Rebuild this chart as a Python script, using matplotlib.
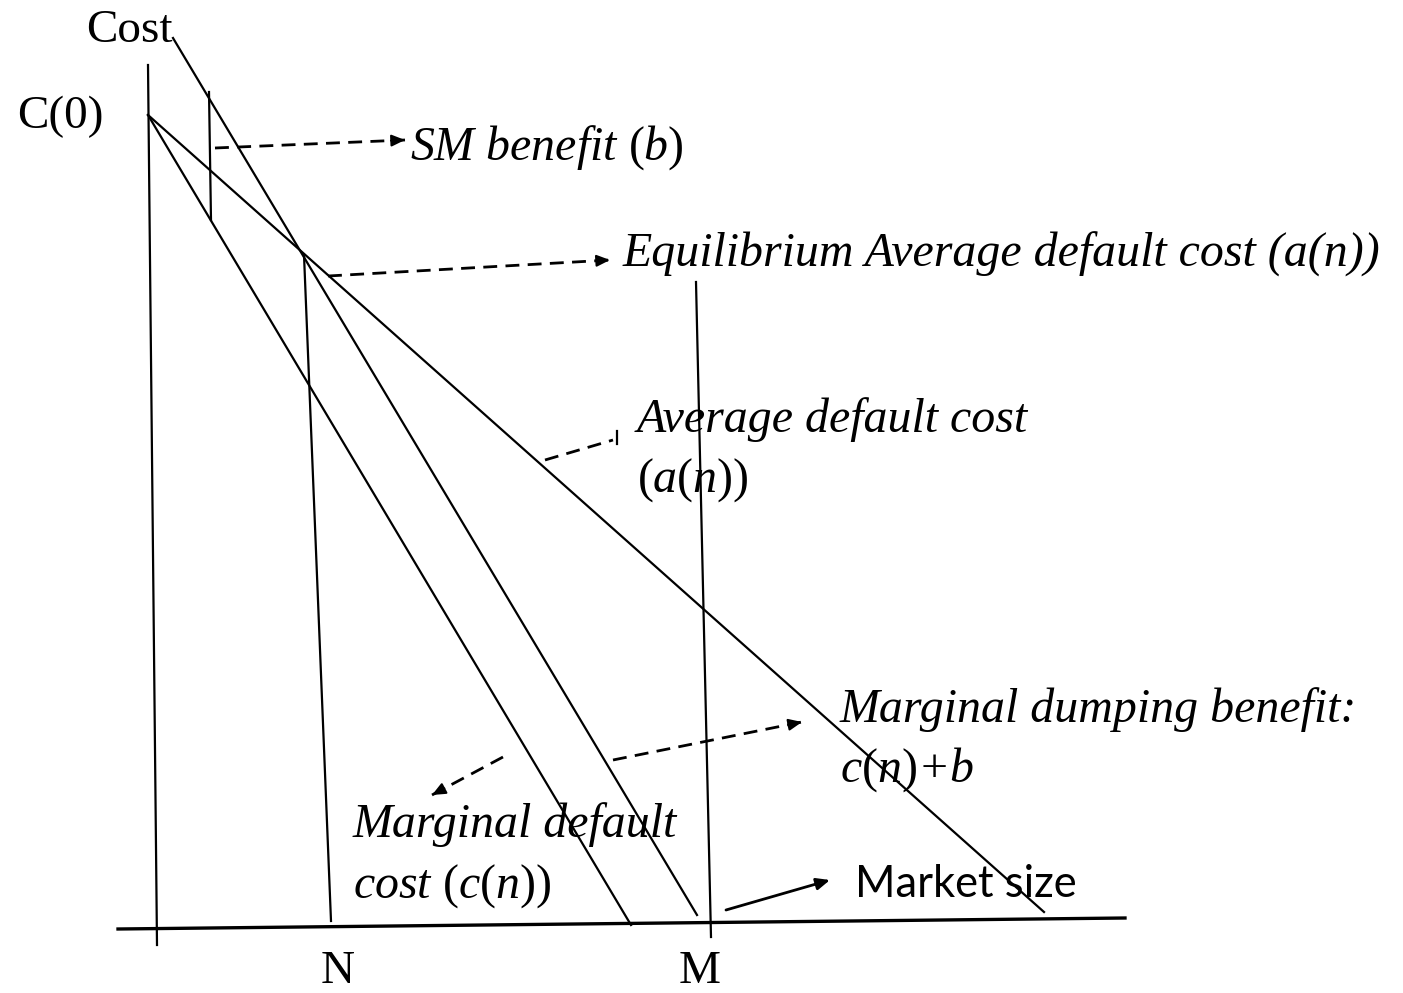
import matplotlib.pyplot as plt

plt.rcParams['mathtext.fontset'] = 'custom'
plt.rcParams['mathtext.rm'] = 'Liberation Serif'
plt.rcParams['mathtext.it'] = 'Liberation Serif:italic'

W, H = 1403, 993

# diagram geometry, in image pixels (x to the right, y downwards)
y_axis_x, y_axis_y = [148, 157], [65, 945]
x_axis_x, x_axis_y = [118, 1125], [929, 918]
marg_cost_x, marg_cost_y = [148, 631], [115, 925]          # c(n)
avg_cost_x, avg_cost_y = [148, 1044], [115, 912]           # a(n)
dump_benefit_x, dump_benefit_y = [173, 697], [38, 915]     # c(n)+b
sm_benefit_x, sm_benefit_y = [209, 211], [92, 220]         # b
n_line_x, n_line_y = [304, 331], [255, 921]
m_line_x, m_line_y = [696, 711], [282, 937]

# dashed pointers: (start, end)
pointers = [
    ((215, 148), (405, 140)),
    ((328, 276), (610, 260)),
    ((613, 760), (802, 722)),
    ((503, 757), (432, 795)),
]
avg_pointer = ((545, 460), (613, 440))
avg_tick_x, avg_tick_y = [617, 617], [431, 444]
market_arrow = ((726, 910), (830, 880))

fig = plt.figure(figsize=(W / 100, H / 100), dpi=100)
ax = fig.add_axes([0, 0, 1, 1])
ax.set_xlim(0, W)
ax.set_ylim(H, 0)
ax.axis('off')

lw = 1.6
ax.plot(y_axis_x, y_axis_y, color='black', lw=lw)
ax.plot(x_axis_x, x_axis_y, color='black', lw=2.4)
for xs, ys in [(marg_cost_x, marg_cost_y), (avg_cost_x, avg_cost_y),
               (dump_benefit_x, dump_benefit_y), (sm_benefit_x, sm_benefit_y),
               (n_line_x, n_line_y), (m_line_x, m_line_y)]:
    ax.plot(xs, ys, color='black', lw=lw)

dash = (0, (5, 3))
for (x0, y0), (x1, y1) in pointers:
    ax.plot([x0, x1], [y0, y1], color='black', lw=2, linestyle=dash)
    dx, dy = x1 - x0, y1 - y0
    L = (dx ** 2 + dy ** 2) ** 0.5
    ax.annotate('', xy=(x1, y1), xytext=(x1 - dx / L * 14, y1 - dy / L * 14),
                arrowprops=dict(arrowstyle='-|>,head_length=0.8,head_width=0.35',
                                color='black', lw=1.5, shrinkA=0, shrinkB=0))

(x0, y0), (x1, y1) = avg_pointer
ax.plot([x0, x1], [y0, y1], color='black', lw=2, linestyle=dash)
ax.plot(avg_tick_x, avg_tick_y, color='black', lw=1.6)

ax.annotate('', xy=market_arrow[1], xytext=market_arrow[0],
            arrowprops=dict(arrowstyle='-|>,head_length=0.8,head_width=0.35',
                            color='black', lw=2, shrinkA=0, shrinkB=0))

serif = 'Liberation Serif'
upright = dict(family=serif, fontsize=34, va='baseline', ha='left')
italic = dict(family=serif, fontsize=34.5, style='italic', va='baseline', ha='left')

ax.text(86, 42, 'Cost', **upright)
ax.text(17, 128, 'C(0)', **upright)
ax.text(321, 983, 'N', **upright)
ax.text(679, 983, 'M', **upright)

ax.text(410, 160, 'SM benefit $(b)$', **italic)
ax.text(623, 267, 'Equilibrium Average default cost (a(n))', **italic)
ax.text(637, 432, 'Average default cost', **italic)
ax.text(637, 492, '$(a(n))$', **italic)
ax.text(840, 722, 'Marginal dumping benefit:', **italic)
ax.text(840, 782, '$c(n)$+$b$', **italic)
ax.text(353, 837, 'Marginal default', **italic)
ax.text(353, 898, 'cost $(c(n))$', **italic)

ax.text(855, 897, 'Market size', family='Lato', fontsize=31.4, va='baseline', ha='left')

fig.savefig('out.png', dpi=100)
